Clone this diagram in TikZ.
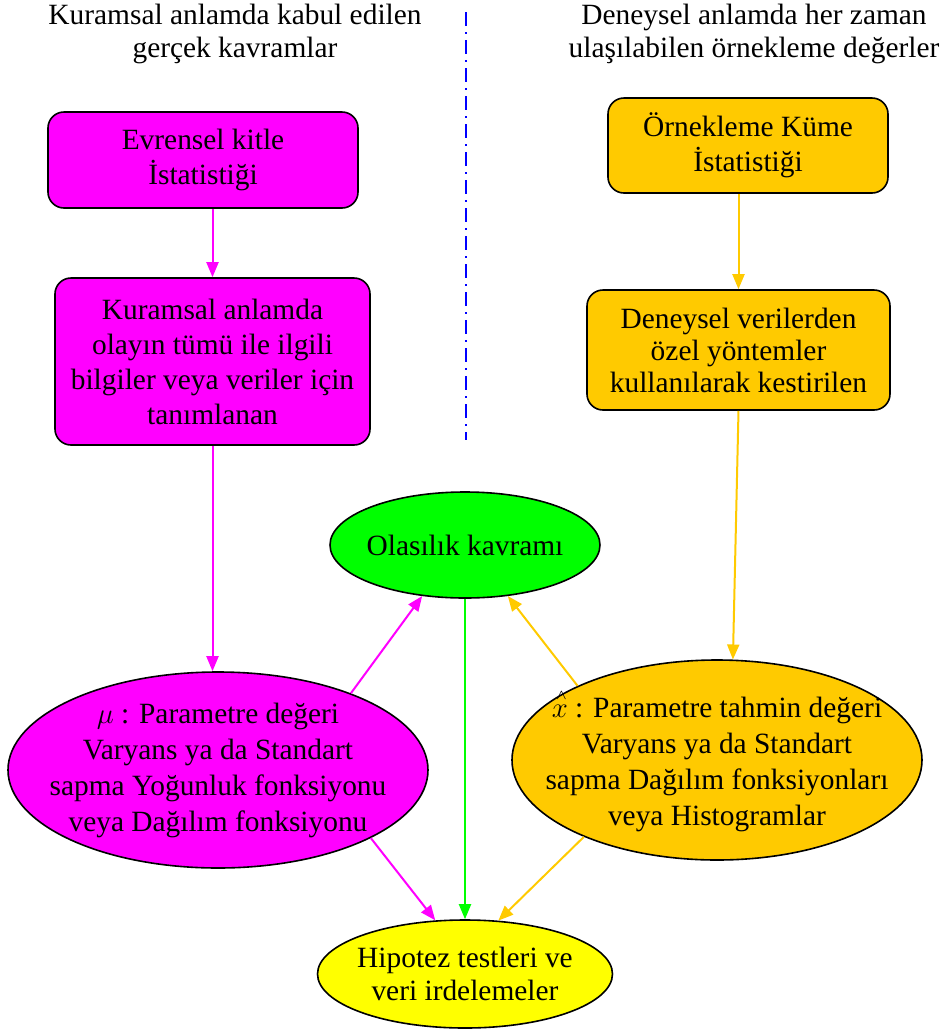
\documentclass[tikz,border=0pt]{standalone}
\usepackage{amsmath}
\usepackage[no-math]{fontspec}
\setmainfont{Liberation Serif}
\usetikzlibrary{shapes.geometric,arrows.meta}

\definecolor{mag}{HTML}{FF00FF}
\definecolor{orng}{HTML}{FFCA00}
\definecolor{grn}{HTML}{00FF00}
\definecolor{ylw}{HTML}{FFFF00}

\newcommand{\sapka}[1]{\overset{\mkern3mu\scriptscriptstyle\wedge}{#1}}

\tikzset{
  kutu/.style={draw=black,line width=0.8pt,rounded corners=8pt,align=center,
    font=\fontsize{14.7}{17.5}\selectfont,inner sep=0pt},
  elips/.style={ellipse,draw=black,line width=0.8pt,align=center,
    font=\fontsize{14.7}{18}\selectfont,inner sep=0pt},
  ok/.style={line width=1pt,-{Triangle[length=7.5pt,width=6pt]}},
  baslik/.style={align=center,font=\fontsize{14.7}{16.5}\selectfont}
}

\begin{document}
\begin{tikzpicture}[x=0.5pt,y=-0.5pt]
\useasboundingbox (0,0) rectangle (948,1030);
% basliklar
\node [baslik] (kbas) at (235,34) {Kuramsal anlamda kabul edilen\\gerçek kavramlar};
\node [baslik] (dbas) at (754,34) {Deneysel anlamda her zaman\\ulaşılabilen örnekleme değerler};
\coordinate (ust) at (466,12);
\coordinate (alt) at (466,440);
\draw [blue,line width=1pt,dash pattern=on 7pt off 3pt on 1pt off 3pt] (ust) -- (alt);
% sol taraf
\node [kutu,fill=mag,minimum width=155pt,minimum height=48pt] (evren) at (203,160) {Evrensel kitle\\İstatistiği};
\node [kutu,fill=mag,minimum width=157.5pt,minimum height=83.5pt] (kuram) at (212.5,361.5)
  {Kuramsal anlamda\\olayın tümü ile ilgili\\bilgiler veya veriler için\\tanımlanan};
\node [elips,fill=mag,minimum width=210pt,minimum height=98pt,inner xsep=-14pt,inner ysep=-2pt] (param) at (218,770)
  {$\mu$ : Parametre değeri\\Varyans ya da Standart\\sapma Yoğunluk fonksiyonu\\veya Dağılım fonksiyonu};
% sag taraf
\node [kutu,fill=orng,minimum width=140pt,minimum height=47.5pt] (orkume) at (748,145.5) {Örnekleme Küme\\İstatistiği};
\node [kutu,fill=orng,minimum width=151.5pt,minimum height=60pt,font=\fontsize{14.7}{16}\selectfont] (deney) at (738.5,350)
  {Deneysel verilerden\\özel yöntemler\\kullanılarak kestirilen};
\node [elips,fill=orng,minimum width=205pt,minimum height=100pt,inner xsep=-14pt,inner ysep=-2pt] (tahmin) at (717,760)
  {$\sapka{x}$ : Parametre tahmin değeri\\Varyans ya da Standart\\sapma Dağılım fonksiyonları\\veya Histogramlar};
% orta
\node [elips,fill=grn,minimum width=135pt,minimum height=53pt,inner xsep=-3pt] (olas) at (465,545) {Olasılık kavramı};
\node [elips,fill=ylw,minimum width=147.5pt,minimum height=54pt,inner xsep=-4pt,font=\fontsize{14.7}{16.5}\selectfont] (hipo) at (465,974) {Hipotez testleri ve\\veri irdelemeler};
% oklar
\draw [ok,mag] (evren.south -| kuram.north) -- (kuram.north);
\draw [ok,mag] (kuram.south) -- (kuram.south |- param.north);
\draw [ok,orng] (orkume.south -| deney.north) -- (deney.north);
\draw [ok,orng] (deney.south) -- (tahmin.81);
\draw [ok,mag] (param.30) -- (olas.230);
\draw [ok,orng] (tahmin.152) -- (olas.310);
\draw [ok,grn] (olas.south) -- (hipo.north);
\draw [ok,mag] (param.336) -- (hipo.119);
\draw [ok,orng] (tahmin.210) -- (hipo.58);
\end{tikzpicture}
\end{document}
